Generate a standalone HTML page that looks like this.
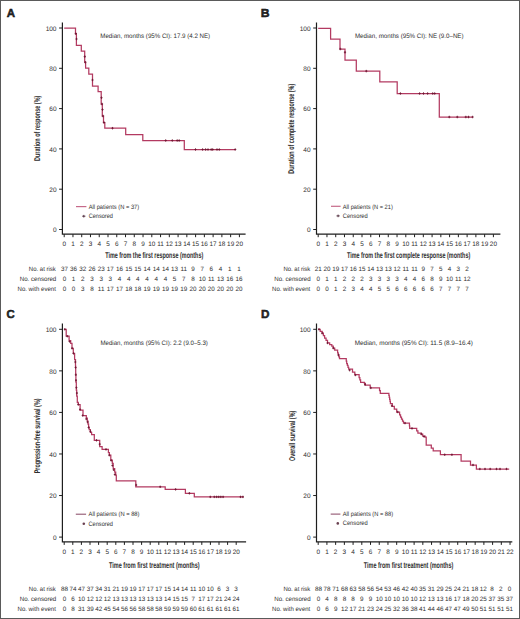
<!DOCTYPE html><html><head><meta charset="utf-8"><style>html,body{margin:0;padding:0;background:#fff;overflow:hidden}svg{display:block}text{fill:#2e2e2e;text-rendering:geometricPrecision}</style></head><body>
<svg width="520" height="619" viewBox="0 0 520 619" font-family="'Liberation Sans', sans-serif">
<rect x="0" y="0" width="520" height="619" fill="#fff"/>
<rect x="0.5" y="0.5" width="519" height="618" fill="none" stroke="#5a5a5a" stroke-width="1"/>
<text x="6.65" y="16.7" font-size="11.6" font-weight="bold" fill="#000" stroke="#000" stroke-width="0.45" textLength="8.32" lengthAdjust="spacingAndGlyphs">A</text>
<text x="260.81" y="16.6" font-size="11.6" font-weight="bold" fill="#000" stroke="#000" stroke-width="0.45" textLength="8.79" lengthAdjust="spacingAndGlyphs">B</text>
<text x="6.46" y="318.1" font-size="11.6" font-weight="bold" fill="#000" stroke="#000" stroke-width="0.45" textLength="8.21" lengthAdjust="spacingAndGlyphs">C</text>
<text x="261.14" y="317.9" font-size="11.6" font-weight="bold" fill="#000" stroke="#000" stroke-width="0.45" textLength="8.44" lengthAdjust="spacingAndGlyphs">D</text>
<path d="M62.4 22.4V234.8M61.8 234.2H245.6" stroke="#1e1e1e" stroke-width="1.2" fill="none"/>
<path d="M59.1 229.5H62.4M59.1 189.2H62.4M59.1 148.9H62.4M59.1 108.6H62.4M59.1 68.3H62.4M59.1 28H62.4M64.2 234.2V237.2M72.96 234.2V237.2M81.72 234.2V237.2M90.48 234.2V237.2M99.24 234.2V237.2M108 234.2V237.2M116.76 234.2V237.2M125.52 234.2V237.2M134.28 234.2V237.2M143.04 234.2V237.2M151.8 234.2V237.2M160.56 234.2V237.2M169.32 234.2V237.2M178.08 234.2V237.2M186.84 234.2V237.2M195.6 234.2V237.2M204.36 234.2V237.2M213.12 234.2V237.2M221.88 234.2V237.2M230.64 234.2V237.2M239.4 234.2V237.2" stroke="#1e1e1e" stroke-width="1" fill="none"/>
<text x="56.5" y="232.3" font-size="6.5" text-anchor="end">0</text>
<text x="56.5" y="192" font-size="6.5" text-anchor="end">20</text>
<text x="56.5" y="151.7" font-size="6.5" text-anchor="end">40</text>
<text x="56.5" y="111.4" font-size="6.5" text-anchor="end">60</text>
<text x="56.5" y="71.1" font-size="6.5" text-anchor="end">80</text>
<text x="56.5" y="30.8" font-size="6.5" text-anchor="end">100</text>
<text x="64.2" y="245.9" font-size="6.4" text-anchor="middle">0</text>
<text x="72.96" y="245.9" font-size="6.4" text-anchor="middle">1</text>
<text x="81.72" y="245.9" font-size="6.4" text-anchor="middle">2</text>
<text x="90.48" y="245.9" font-size="6.4" text-anchor="middle">3</text>
<text x="99.24" y="245.9" font-size="6.4" text-anchor="middle">4</text>
<text x="108" y="245.9" font-size="6.4" text-anchor="middle">5</text>
<text x="116.76" y="245.9" font-size="6.4" text-anchor="middle">6</text>
<text x="125.52" y="245.9" font-size="6.4" text-anchor="middle">7</text>
<text x="134.28" y="245.9" font-size="6.4" text-anchor="middle">8</text>
<text x="143.04" y="245.9" font-size="6.4" text-anchor="middle">9</text>
<text x="151.8" y="245.9" font-size="6.4" text-anchor="middle">10</text>
<text x="160.56" y="245.9" font-size="6.4" text-anchor="middle">11</text>
<text x="169.32" y="245.9" font-size="6.4" text-anchor="middle">12</text>
<text x="178.08" y="245.9" font-size="6.4" text-anchor="middle">13</text>
<text x="186.84" y="245.9" font-size="6.4" text-anchor="middle">14</text>
<text x="195.6" y="245.9" font-size="6.4" text-anchor="middle">15</text>
<text x="204.36" y="245.9" font-size="6.4" text-anchor="middle">16</text>
<text x="213.12" y="245.9" font-size="6.4" text-anchor="middle">17</text>
<text x="221.88" y="245.9" font-size="6.4" text-anchor="middle">18</text>
<text x="230.64" y="245.9" font-size="6.4" text-anchor="middle">19</text>
<text x="239.4" y="245.9" font-size="6.4" text-anchor="middle">20</text>
<path d="M316.5 22.4V234.8M315.9 234.2H500.4" stroke="#1e1e1e" stroke-width="1.2" fill="none"/>
<path d="M313.2 229.5H316.5M313.2 189.2H316.5M313.2 148.9H316.5M313.2 108.6H316.5M313.2 68.3H316.5M313.2 28H316.5M318.2 234.2V237.2M326.96 234.2V237.2M335.72 234.2V237.2M344.48 234.2V237.2M353.24 234.2V237.2M362 234.2V237.2M370.76 234.2V237.2M379.52 234.2V237.2M388.28 234.2V237.2M397.04 234.2V237.2M405.8 234.2V237.2M414.56 234.2V237.2M423.32 234.2V237.2M432.08 234.2V237.2M440.84 234.2V237.2M449.6 234.2V237.2M458.36 234.2V237.2M467.12 234.2V237.2M475.88 234.2V237.2M484.64 234.2V237.2M493.4 234.2V237.2" stroke="#1e1e1e" stroke-width="1" fill="none"/>
<text x="310.6" y="232.3" font-size="6.5" text-anchor="end">0</text>
<text x="310.6" y="192" font-size="6.5" text-anchor="end">20</text>
<text x="310.6" y="151.7" font-size="6.5" text-anchor="end">40</text>
<text x="310.6" y="111.4" font-size="6.5" text-anchor="end">60</text>
<text x="310.6" y="71.1" font-size="6.5" text-anchor="end">80</text>
<text x="310.6" y="30.8" font-size="6.5" text-anchor="end">100</text>
<text x="318.2" y="245.9" font-size="6.4" text-anchor="middle">0</text>
<text x="326.96" y="245.9" font-size="6.4" text-anchor="middle">1</text>
<text x="335.72" y="245.9" font-size="6.4" text-anchor="middle">2</text>
<text x="344.48" y="245.9" font-size="6.4" text-anchor="middle">3</text>
<text x="353.24" y="245.9" font-size="6.4" text-anchor="middle">4</text>
<text x="362" y="245.9" font-size="6.4" text-anchor="middle">5</text>
<text x="370.76" y="245.9" font-size="6.4" text-anchor="middle">6</text>
<text x="379.52" y="245.9" font-size="6.4" text-anchor="middle">7</text>
<text x="388.28" y="245.9" font-size="6.4" text-anchor="middle">8</text>
<text x="397.04" y="245.9" font-size="6.4" text-anchor="middle">9</text>
<text x="405.8" y="245.9" font-size="6.4" text-anchor="middle">10</text>
<text x="414.56" y="245.9" font-size="6.4" text-anchor="middle">11</text>
<text x="423.32" y="245.9" font-size="6.4" text-anchor="middle">12</text>
<text x="432.08" y="245.9" font-size="6.4" text-anchor="middle">13</text>
<text x="440.84" y="245.9" font-size="6.4" text-anchor="middle">14</text>
<text x="449.6" y="245.9" font-size="6.4" text-anchor="middle">15</text>
<text x="458.36" y="245.9" font-size="6.4" text-anchor="middle">16</text>
<text x="467.12" y="245.9" font-size="6.4" text-anchor="middle">17</text>
<text x="475.88" y="245.9" font-size="6.4" text-anchor="middle">18</text>
<text x="484.64" y="245.9" font-size="6.4" text-anchor="middle">19</text>
<text x="493.4" y="245.9" font-size="6.4" text-anchor="middle">20</text>
<path d="M62.4 323.6V542.5M61.8 541.9H246.1" stroke="#1e1e1e" stroke-width="1.2" fill="none"/>
<path d="M59.1 537.1H62.4M59.1 495.54H62.4M59.1 453.98H62.4M59.1 412.42H62.4M59.1 370.86H62.4M59.1 329.3H62.4M64.2 541.9V544.9M72.8 541.9V544.9M81.4 541.9V544.9M90 541.9V544.9M98.6 541.9V544.9M107.2 541.9V544.9M115.8 541.9V544.9M124.4 541.9V544.9M133 541.9V544.9M141.6 541.9V544.9M150.2 541.9V544.9M158.8 541.9V544.9M167.4 541.9V544.9M176 541.9V544.9M184.6 541.9V544.9M193.2 541.9V544.9M201.8 541.9V544.9M210.4 541.9V544.9M219 541.9V544.9M227.6 541.9V544.9M236.2 541.9V544.9" stroke="#1e1e1e" stroke-width="1" fill="none"/>
<text x="56.5" y="539.9" font-size="6.5" text-anchor="end">0</text>
<text x="56.5" y="498.34" font-size="6.5" text-anchor="end">20</text>
<text x="56.5" y="456.78" font-size="6.5" text-anchor="end">40</text>
<text x="56.5" y="415.22" font-size="6.5" text-anchor="end">60</text>
<text x="56.5" y="373.66" font-size="6.5" text-anchor="end">80</text>
<text x="56.5" y="332.1" font-size="6.5" text-anchor="end">100</text>
<text x="64.2" y="554" font-size="6.4" text-anchor="middle">0</text>
<text x="72.8" y="554" font-size="6.4" text-anchor="middle">1</text>
<text x="81.4" y="554" font-size="6.4" text-anchor="middle">2</text>
<text x="90" y="554" font-size="6.4" text-anchor="middle">3</text>
<text x="98.6" y="554" font-size="6.4" text-anchor="middle">4</text>
<text x="107.2" y="554" font-size="6.4" text-anchor="middle">5</text>
<text x="115.8" y="554" font-size="6.4" text-anchor="middle">6</text>
<text x="124.4" y="554" font-size="6.4" text-anchor="middle">7</text>
<text x="133" y="554" font-size="6.4" text-anchor="middle">8</text>
<text x="141.6" y="554" font-size="6.4" text-anchor="middle">9</text>
<text x="150.2" y="554" font-size="6.4" text-anchor="middle">10</text>
<text x="158.8" y="554" font-size="6.4" text-anchor="middle">11</text>
<text x="167.4" y="554" font-size="6.4" text-anchor="middle">12</text>
<text x="176" y="554" font-size="6.4" text-anchor="middle">13</text>
<text x="184.6" y="554" font-size="6.4" text-anchor="middle">14</text>
<text x="193.2" y="554" font-size="6.4" text-anchor="middle">15</text>
<text x="201.8" y="554" font-size="6.4" text-anchor="middle">16</text>
<text x="210.4" y="554" font-size="6.4" text-anchor="middle">17</text>
<text x="219" y="554" font-size="6.4" text-anchor="middle">18</text>
<text x="227.6" y="554" font-size="6.4" text-anchor="middle">19</text>
<text x="236.2" y="554" font-size="6.4" text-anchor="middle">20</text>
<path d="M316.5 323.6V542.5M315.9 541.9H512.3" stroke="#1e1e1e" stroke-width="1.2" fill="none"/>
<path d="M313.2 537.1H316.5M313.2 495.54H316.5M313.2 453.98H316.5M313.2 412.42H316.5M313.2 370.86H316.5M313.2 329.3H316.5M318.2 541.9V544.9M326.92 541.9V544.9M335.64 541.9V544.9M344.36 541.9V544.9M353.08 541.9V544.9M361.8 541.9V544.9M370.52 541.9V544.9M379.24 541.9V544.9M387.96 541.9V544.9M396.68 541.9V544.9M405.4 541.9V544.9M414.12 541.9V544.9M422.84 541.9V544.9M431.56 541.9V544.9M440.28 541.9V544.9M449 541.9V544.9M457.72 541.9V544.9M466.44 541.9V544.9M475.16 541.9V544.9M483.88 541.9V544.9M492.6 541.9V544.9M501.32 541.9V544.9M510.04 541.9V544.9" stroke="#1e1e1e" stroke-width="1" fill="none"/>
<text x="310.6" y="539.9" font-size="6.5" text-anchor="end">0</text>
<text x="310.6" y="498.34" font-size="6.5" text-anchor="end">20</text>
<text x="310.6" y="456.78" font-size="6.5" text-anchor="end">40</text>
<text x="310.6" y="415.22" font-size="6.5" text-anchor="end">60</text>
<text x="310.6" y="373.66" font-size="6.5" text-anchor="end">80</text>
<text x="310.6" y="332.1" font-size="6.5" text-anchor="end">100</text>
<text x="318.2" y="554" font-size="6.4" text-anchor="middle">0</text>
<text x="326.92" y="554" font-size="6.4" text-anchor="middle">1</text>
<text x="335.64" y="554" font-size="6.4" text-anchor="middle">2</text>
<text x="344.36" y="554" font-size="6.4" text-anchor="middle">3</text>
<text x="353.08" y="554" font-size="6.4" text-anchor="middle">4</text>
<text x="361.8" y="554" font-size="6.4" text-anchor="middle">5</text>
<text x="370.52" y="554" font-size="6.4" text-anchor="middle">6</text>
<text x="379.24" y="554" font-size="6.4" text-anchor="middle">7</text>
<text x="387.96" y="554" font-size="6.4" text-anchor="middle">8</text>
<text x="396.68" y="554" font-size="6.4" text-anchor="middle">9</text>
<text x="405.4" y="554" font-size="6.4" text-anchor="middle">10</text>
<text x="414.12" y="554" font-size="6.4" text-anchor="middle">11</text>
<text x="422.84" y="554" font-size="6.4" text-anchor="middle">12</text>
<text x="431.56" y="554" font-size="6.4" text-anchor="middle">13</text>
<text x="440.28" y="554" font-size="6.4" text-anchor="middle">14</text>
<text x="449" y="554" font-size="6.4" text-anchor="middle">15</text>
<text x="457.72" y="554" font-size="6.4" text-anchor="middle">16</text>
<text x="466.44" y="554" font-size="6.4" text-anchor="middle">17</text>
<text x="475.16" y="554" font-size="6.4" text-anchor="middle">18</text>
<text x="483.88" y="554" font-size="6.4" text-anchor="middle">19</text>
<text x="492.6" y="554" font-size="6.4" text-anchor="middle">20</text>
<text x="501.32" y="554" font-size="6.4" text-anchor="middle">21</text>
<text x="510.04" y="554" font-size="6.4" text-anchor="middle">22</text>
<text x="105.17" y="258" font-size="8.4" font-weight="bold" textLength="98.09" lengthAdjust="spacingAndGlyphs">Time from the first response (months)</text>
<text x="346.97" y="258" font-size="8.4" font-weight="bold" textLength="123.29" lengthAdjust="spacingAndGlyphs">Time from the first complete response (months)</text>
<text x="108.97" y="568.3" font-size="8.4" font-weight="bold" textLength="90.59" lengthAdjust="spacingAndGlyphs">Time from first treatment (months)</text>
<text x="363.87" y="568.3" font-size="8.4" font-weight="bold" textLength="89.39" lengthAdjust="spacingAndGlyphs">Time from first treatment (months)</text>
<text transform="translate(39.8,160.96) rotate(-90)" x="0" y="0" font-size="8.4" font-weight="bold" textLength="65.32" lengthAdjust="spacingAndGlyphs">Duration of response (%)</text>
<text transform="translate(294.4,173.66) rotate(-90)" x="0" y="0" font-size="8.4" font-weight="bold" textLength="89.91" lengthAdjust="spacingAndGlyphs">Duration of complete response (%)</text>
<text transform="translate(39.6,473.25) rotate(-90)" x="0" y="0" font-size="8.4" font-weight="bold" textLength="74.71" lengthAdjust="spacingAndGlyphs">Progression-free survival (%)</text>
<text transform="translate(294.5,460.99) rotate(-90)" x="0" y="0" font-size="8.4" font-weight="bold" textLength="50.25" lengthAdjust="spacingAndGlyphs">Overall survival (%)</text>
<text x="100.32" y="37.7" font-size="6.4" textLength="109.85" lengthAdjust="spacingAndGlyphs">Median, months (95% CI): 17.9 (4.2 NE)</text>
<text x="354.92" y="37.8" font-size="6.4" textLength="108.65" lengthAdjust="spacingAndGlyphs">Median, months (95% CI): NE (9.0–NE)</text>
<text x="100.42" y="345.4" font-size="6.4" textLength="107.44" lengthAdjust="spacingAndGlyphs">Median, months (95% CI): 2.2 (9.0–5.3)</text>
<text x="354.8" y="345.4" font-size="6.4" textLength="118.07" lengthAdjust="spacingAndGlyphs">Median, months (95% CI): 11.5 (8.9–16.4)</text>
<path d="M76 206.6H86.4" stroke="#c66a8a" stroke-width="1.2"/>
<text x="88.7" y="208.7" font-size="6.3" textLength="50.52" lengthAdjust="spacingAndGlyphs">All patients (N = 37)</text>
<path d="M83.8 214.9V217.5M82.2 216.2H85.4" stroke="#4a2535" stroke-width="0.9"/>
<text x="88.63" y="217.9" font-size="6.3" textLength="24.33" lengthAdjust="spacingAndGlyphs">Censored</text>
<path d="M331 206.3H340.6" stroke="#c66a8a" stroke-width="1.2"/>
<text x="342.8" y="208.5" font-size="6.3" textLength="50.01" lengthAdjust="spacingAndGlyphs">All patients (N = 21)</text>
<path d="M338.1 214.6V217.2M336.5 215.9H339.7" stroke="#4a2535" stroke-width="0.9"/>
<text x="342.72" y="217.7" font-size="6.3" textLength="25.05" lengthAdjust="spacingAndGlyphs">Censored</text>
<path d="M75.8 514.2H86.1" stroke="#864462" stroke-width="1"/>
<text x="88.6" y="515.9" font-size="6.3" textLength="50.92" lengthAdjust="spacingAndGlyphs">All patients (N = 88)</text>
<circle cx="83.8" cy="523.7" r="1.3" fill="#6a4050"/>
<text x="88.53" y="525.5" font-size="6.3" textLength="24.43" lengthAdjust="spacingAndGlyphs">Censored</text>
<path d="M330.7 514.1H340.4" stroke="#864462" stroke-width="1"/>
<text x="342.8" y="515.9" font-size="6.3" textLength="50.32" lengthAdjust="spacingAndGlyphs">All patients (N = 88)</text>
<circle cx="337.8" cy="523.4" r="1.3" fill="#6a4050"/>
<text x="342.72" y="525.4" font-size="6.3" textLength="25.05" lengthAdjust="spacingAndGlyphs">Censored</text>
<text x="28.82" y="271.3" font-size="6.3" textLength="27.03" lengthAdjust="spacingAndGlyphs">No. at risk</text>
<text x="19.71" y="281.2" font-size="6.3" textLength="36.58" lengthAdjust="spacingAndGlyphs">No. censored</text>
<text x="17.52" y="291.2" font-size="6.3" textLength="38.38" lengthAdjust="spacingAndGlyphs">No. with event</text>
<text x="64.4" y="271.3" font-size="6.3" text-anchor="middle">37</text>
<text x="73.58" y="271.3" font-size="6.3" text-anchor="middle">36</text>
<text x="82.77" y="271.3" font-size="6.3" text-anchor="middle">32</text>
<text x="91.95" y="271.3" font-size="6.3" text-anchor="middle">26</text>
<text x="101.14" y="271.3" font-size="6.3" text-anchor="middle">23</text>
<text x="110.32" y="271.3" font-size="6.3" text-anchor="middle">17</text>
<text x="119.51" y="271.3" font-size="6.3" text-anchor="middle">16</text>
<text x="128.69" y="271.3" font-size="6.3" text-anchor="middle">15</text>
<text x="137.87" y="271.3" font-size="6.3" text-anchor="middle">15</text>
<text x="147.06" y="271.3" font-size="6.3" text-anchor="middle">14</text>
<text x="156.24" y="271.3" font-size="6.3" text-anchor="middle">14</text>
<text x="165.43" y="271.3" font-size="6.3" text-anchor="middle">14</text>
<text x="174.61" y="271.3" font-size="6.3" text-anchor="middle">13</text>
<text x="183.79" y="271.3" font-size="6.3" text-anchor="middle">11</text>
<text x="192.98" y="271.3" font-size="6.3" text-anchor="middle">9</text>
<text x="202.16" y="271.3" font-size="6.3" text-anchor="middle">7</text>
<text x="211.35" y="271.3" font-size="6.3" text-anchor="middle">6</text>
<text x="220.53" y="271.3" font-size="6.3" text-anchor="middle">4</text>
<text x="229.72" y="271.3" font-size="6.3" text-anchor="middle">1</text>
<text x="238.9" y="271.3" font-size="6.3" text-anchor="middle">1</text>
<text x="64.4" y="281.2" font-size="6.3" text-anchor="middle">0</text>
<text x="73.58" y="281.2" font-size="6.3" text-anchor="middle">1</text>
<text x="82.77" y="281.2" font-size="6.3" text-anchor="middle">2</text>
<text x="91.95" y="281.2" font-size="6.3" text-anchor="middle">3</text>
<text x="101.14" y="281.2" font-size="6.3" text-anchor="middle">3</text>
<text x="110.32" y="281.2" font-size="6.3" text-anchor="middle">3</text>
<text x="119.51" y="281.2" font-size="6.3" text-anchor="middle">4</text>
<text x="128.69" y="281.2" font-size="6.3" text-anchor="middle">4</text>
<text x="137.87" y="281.2" font-size="6.3" text-anchor="middle">4</text>
<text x="147.06" y="281.2" font-size="6.3" text-anchor="middle">4</text>
<text x="156.24" y="281.2" font-size="6.3" text-anchor="middle">4</text>
<text x="165.43" y="281.2" font-size="6.3" text-anchor="middle">4</text>
<text x="174.61" y="281.2" font-size="6.3" text-anchor="middle">5</text>
<text x="183.79" y="281.2" font-size="6.3" text-anchor="middle">7</text>
<text x="192.98" y="281.2" font-size="6.3" text-anchor="middle">8</text>
<text x="202.16" y="281.2" font-size="6.3" text-anchor="middle">10</text>
<text x="211.35" y="281.2" font-size="6.3" text-anchor="middle">11</text>
<text x="220.53" y="281.2" font-size="6.3" text-anchor="middle">13</text>
<text x="229.72" y="281.2" font-size="6.3" text-anchor="middle">16</text>
<text x="238.9" y="281.2" font-size="6.3" text-anchor="middle">16</text>
<text x="64.4" y="291.2" font-size="6.3" text-anchor="middle">0</text>
<text x="73.58" y="291.2" font-size="6.3" text-anchor="middle">0</text>
<text x="82.77" y="291.2" font-size="6.3" text-anchor="middle">3</text>
<text x="91.95" y="291.2" font-size="6.3" text-anchor="middle">8</text>
<text x="101.14" y="291.2" font-size="6.3" text-anchor="middle">11</text>
<text x="110.32" y="291.2" font-size="6.3" text-anchor="middle">17</text>
<text x="119.51" y="291.2" font-size="6.3" text-anchor="middle">17</text>
<text x="128.69" y="291.2" font-size="6.3" text-anchor="middle">18</text>
<text x="137.87" y="291.2" font-size="6.3" text-anchor="middle">18</text>
<text x="147.06" y="291.2" font-size="6.3" text-anchor="middle">19</text>
<text x="156.24" y="291.2" font-size="6.3" text-anchor="middle">19</text>
<text x="165.43" y="291.2" font-size="6.3" text-anchor="middle">19</text>
<text x="174.61" y="291.2" font-size="6.3" text-anchor="middle">19</text>
<text x="183.79" y="291.2" font-size="6.3" text-anchor="middle">19</text>
<text x="192.98" y="291.2" font-size="6.3" text-anchor="middle">20</text>
<text x="202.16" y="291.2" font-size="6.3" text-anchor="middle">20</text>
<text x="211.35" y="291.2" font-size="6.3" text-anchor="middle">20</text>
<text x="220.53" y="291.2" font-size="6.3" text-anchor="middle">20</text>
<text x="229.72" y="291.2" font-size="6.3" text-anchor="middle">20</text>
<text x="238.9" y="291.2" font-size="6.3" text-anchor="middle">20</text>
<text x="283.43" y="271.3" font-size="6.3" textLength="26.83" lengthAdjust="spacingAndGlyphs">No. at risk</text>
<text x="274.21" y="281.2" font-size="6.3" textLength="36.48" lengthAdjust="spacingAndGlyphs">No. censored</text>
<text x="272.02" y="291.2" font-size="6.3" textLength="38.28" lengthAdjust="spacingAndGlyphs">No. with event</text>
<text x="318.2" y="271.3" font-size="6.3" text-anchor="middle">21</text>
<text x="326.96" y="271.3" font-size="6.3" text-anchor="middle">20</text>
<text x="335.72" y="271.3" font-size="6.3" text-anchor="middle">19</text>
<text x="344.48" y="271.3" font-size="6.3" text-anchor="middle">17</text>
<text x="353.24" y="271.3" font-size="6.3" text-anchor="middle">16</text>
<text x="362" y="271.3" font-size="6.3" text-anchor="middle">15</text>
<text x="370.76" y="271.3" font-size="6.3" text-anchor="middle">14</text>
<text x="379.52" y="271.3" font-size="6.3" text-anchor="middle">13</text>
<text x="388.28" y="271.3" font-size="6.3" text-anchor="middle">13</text>
<text x="397.04" y="271.3" font-size="6.3" text-anchor="middle">12</text>
<text x="405.8" y="271.3" font-size="6.3" text-anchor="middle">11</text>
<text x="414.56" y="271.3" font-size="6.3" text-anchor="middle">11</text>
<text x="423.32" y="271.3" font-size="6.3" text-anchor="middle">9</text>
<text x="432.08" y="271.3" font-size="6.3" text-anchor="middle">7</text>
<text x="440.84" y="271.3" font-size="6.3" text-anchor="middle">5</text>
<text x="449.6" y="271.3" font-size="6.3" text-anchor="middle">4</text>
<text x="458.36" y="271.3" font-size="6.3" text-anchor="middle">3</text>
<text x="467.12" y="271.3" font-size="6.3" text-anchor="middle">2</text>
<text x="318.2" y="281.2" font-size="6.3" text-anchor="middle">0</text>
<text x="326.96" y="281.2" font-size="6.3" text-anchor="middle">1</text>
<text x="335.72" y="281.2" font-size="6.3" text-anchor="middle">1</text>
<text x="344.48" y="281.2" font-size="6.3" text-anchor="middle">2</text>
<text x="353.24" y="281.2" font-size="6.3" text-anchor="middle">2</text>
<text x="362" y="281.2" font-size="6.3" text-anchor="middle">2</text>
<text x="370.76" y="281.2" font-size="6.3" text-anchor="middle">3</text>
<text x="379.52" y="281.2" font-size="6.3" text-anchor="middle">3</text>
<text x="388.28" y="281.2" font-size="6.3" text-anchor="middle">3</text>
<text x="397.04" y="281.2" font-size="6.3" text-anchor="middle">3</text>
<text x="405.8" y="281.2" font-size="6.3" text-anchor="middle">4</text>
<text x="414.56" y="281.2" font-size="6.3" text-anchor="middle">4</text>
<text x="423.32" y="281.2" font-size="6.3" text-anchor="middle">6</text>
<text x="432.08" y="281.2" font-size="6.3" text-anchor="middle">8</text>
<text x="440.84" y="281.2" font-size="6.3" text-anchor="middle">9</text>
<text x="449.6" y="281.2" font-size="6.3" text-anchor="middle">10</text>
<text x="458.36" y="281.2" font-size="6.3" text-anchor="middle">11</text>
<text x="467.12" y="281.2" font-size="6.3" text-anchor="middle">12</text>
<text x="318.2" y="291.2" font-size="6.3" text-anchor="middle">0</text>
<text x="326.96" y="291.2" font-size="6.3" text-anchor="middle">0</text>
<text x="335.72" y="291.2" font-size="6.3" text-anchor="middle">1</text>
<text x="344.48" y="291.2" font-size="6.3" text-anchor="middle">2</text>
<text x="353.24" y="291.2" font-size="6.3" text-anchor="middle">3</text>
<text x="362" y="291.2" font-size="6.3" text-anchor="middle">4</text>
<text x="370.76" y="291.2" font-size="6.3" text-anchor="middle">4</text>
<text x="379.52" y="291.2" font-size="6.3" text-anchor="middle">5</text>
<text x="388.28" y="291.2" font-size="6.3" text-anchor="middle">5</text>
<text x="397.04" y="291.2" font-size="6.3" text-anchor="middle">6</text>
<text x="405.8" y="291.2" font-size="6.3" text-anchor="middle">6</text>
<text x="414.56" y="291.2" font-size="6.3" text-anchor="middle">6</text>
<text x="423.32" y="291.2" font-size="6.3" text-anchor="middle">6</text>
<text x="432.08" y="291.2" font-size="6.3" text-anchor="middle">6</text>
<text x="440.84" y="291.2" font-size="6.3" text-anchor="middle">7</text>
<text x="449.6" y="291.2" font-size="6.3" text-anchor="middle">7</text>
<text x="458.36" y="291.2" font-size="6.3" text-anchor="middle">7</text>
<text x="467.12" y="291.2" font-size="6.3" text-anchor="middle">7</text>
<text x="28.82" y="590.6" font-size="6.3" textLength="27.03" lengthAdjust="spacingAndGlyphs">No. at risk</text>
<text x="19.71" y="600.6" font-size="6.3" textLength="36.58" lengthAdjust="spacingAndGlyphs">No. censored</text>
<text x="17.52" y="610.6" font-size="6.3" textLength="38.38" lengthAdjust="spacingAndGlyphs">No. with event</text>
<text x="64.4" y="590.6" font-size="6.3" text-anchor="middle">88</text>
<text x="72.99" y="590.6" font-size="6.3" text-anchor="middle">74</text>
<text x="81.57" y="590.6" font-size="6.3" text-anchor="middle">47</text>
<text x="90.16" y="590.6" font-size="6.3" text-anchor="middle">37</text>
<text x="98.74" y="590.6" font-size="6.3" text-anchor="middle">34</text>
<text x="107.33" y="590.6" font-size="6.3" text-anchor="middle">31</text>
<text x="115.91" y="590.6" font-size="6.3" text-anchor="middle">21</text>
<text x="124.5" y="590.6" font-size="6.3" text-anchor="middle">19</text>
<text x="133.08" y="590.6" font-size="6.3" text-anchor="middle">19</text>
<text x="141.67" y="590.6" font-size="6.3" text-anchor="middle">17</text>
<text x="150.25" y="590.6" font-size="6.3" text-anchor="middle">17</text>
<text x="158.84" y="590.6" font-size="6.3" text-anchor="middle">17</text>
<text x="167.42" y="590.6" font-size="6.3" text-anchor="middle">15</text>
<text x="176.01" y="590.6" font-size="6.3" text-anchor="middle">14</text>
<text x="184.59" y="590.6" font-size="6.3" text-anchor="middle">14</text>
<text x="193.18" y="590.6" font-size="6.3" text-anchor="middle">11</text>
<text x="201.76" y="590.6" font-size="6.3" text-anchor="middle">10</text>
<text x="210.35" y="590.6" font-size="6.3" text-anchor="middle">10</text>
<text x="218.93" y="590.6" font-size="6.3" text-anchor="middle">6</text>
<text x="227.52" y="590.6" font-size="6.3" text-anchor="middle">3</text>
<text x="236.1" y="590.6" font-size="6.3" text-anchor="middle">3</text>
<text x="64.4" y="600.6" font-size="6.3" text-anchor="middle">0</text>
<text x="72.99" y="600.6" font-size="6.3" text-anchor="middle">6</text>
<text x="81.57" y="600.6" font-size="6.3" text-anchor="middle">10</text>
<text x="90.16" y="600.6" font-size="6.3" text-anchor="middle">12</text>
<text x="98.74" y="600.6" font-size="6.3" text-anchor="middle">12</text>
<text x="107.33" y="600.6" font-size="6.3" text-anchor="middle">12</text>
<text x="115.91" y="600.6" font-size="6.3" text-anchor="middle">13</text>
<text x="124.5" y="600.6" font-size="6.3" text-anchor="middle">13</text>
<text x="133.08" y="600.6" font-size="6.3" text-anchor="middle">13</text>
<text x="141.67" y="600.6" font-size="6.3" text-anchor="middle">13</text>
<text x="150.25" y="600.6" font-size="6.3" text-anchor="middle">13</text>
<text x="158.84" y="600.6" font-size="6.3" text-anchor="middle">13</text>
<text x="167.42" y="600.6" font-size="6.3" text-anchor="middle">14</text>
<text x="176.01" y="600.6" font-size="6.3" text-anchor="middle">15</text>
<text x="184.59" y="600.6" font-size="6.3" text-anchor="middle">15</text>
<text x="193.18" y="600.6" font-size="6.3" text-anchor="middle">7</text>
<text x="201.76" y="600.6" font-size="6.3" text-anchor="middle">17</text>
<text x="210.35" y="600.6" font-size="6.3" text-anchor="middle">17</text>
<text x="218.93" y="600.6" font-size="6.3" text-anchor="middle">21</text>
<text x="227.52" y="600.6" font-size="6.3" text-anchor="middle">24</text>
<text x="236.1" y="600.6" font-size="6.3" text-anchor="middle">24</text>
<text x="64.4" y="610.6" font-size="6.3" text-anchor="middle">0</text>
<text x="72.99" y="610.6" font-size="6.3" text-anchor="middle">8</text>
<text x="81.57" y="610.6" font-size="6.3" text-anchor="middle">31</text>
<text x="90.16" y="610.6" font-size="6.3" text-anchor="middle">39</text>
<text x="98.74" y="610.6" font-size="6.3" text-anchor="middle">42</text>
<text x="107.33" y="610.6" font-size="6.3" text-anchor="middle">45</text>
<text x="115.91" y="610.6" font-size="6.3" text-anchor="middle">54</text>
<text x="124.5" y="610.6" font-size="6.3" text-anchor="middle">56</text>
<text x="133.08" y="610.6" font-size="6.3" text-anchor="middle">56</text>
<text x="141.67" y="610.6" font-size="6.3" text-anchor="middle">58</text>
<text x="150.25" y="610.6" font-size="6.3" text-anchor="middle">58</text>
<text x="158.84" y="610.6" font-size="6.3" text-anchor="middle">58</text>
<text x="167.42" y="610.6" font-size="6.3" text-anchor="middle">59</text>
<text x="176.01" y="610.6" font-size="6.3" text-anchor="middle">59</text>
<text x="184.59" y="610.6" font-size="6.3" text-anchor="middle">59</text>
<text x="193.18" y="610.6" font-size="6.3" text-anchor="middle">60</text>
<text x="201.76" y="610.6" font-size="6.3" text-anchor="middle">61</text>
<text x="210.35" y="610.6" font-size="6.3" text-anchor="middle">61</text>
<text x="218.93" y="610.6" font-size="6.3" text-anchor="middle">61</text>
<text x="227.52" y="610.6" font-size="6.3" text-anchor="middle">61</text>
<text x="236.1" y="610.6" font-size="6.3" text-anchor="middle">61</text>
<text x="283.43" y="590.6" font-size="6.3" textLength="26.83" lengthAdjust="spacingAndGlyphs">No. at risk</text>
<text x="274.21" y="600.6" font-size="6.3" textLength="36.48" lengthAdjust="spacingAndGlyphs">No. censored</text>
<text x="272.02" y="610.5" font-size="6.3" textLength="38.28" lengthAdjust="spacingAndGlyphs">No. with event</text>
<text x="318.4" y="590.6" font-size="6.3" text-anchor="middle">88</text>
<text x="327.08" y="590.6" font-size="6.3" text-anchor="middle">78</text>
<text x="335.76" y="590.6" font-size="6.3" text-anchor="middle">71</text>
<text x="344.45" y="590.6" font-size="6.3" text-anchor="middle">68</text>
<text x="353.13" y="590.6" font-size="6.3" text-anchor="middle">63</text>
<text x="361.81" y="590.6" font-size="6.3" text-anchor="middle">58</text>
<text x="370.49" y="590.6" font-size="6.3" text-anchor="middle">56</text>
<text x="379.17" y="590.6" font-size="6.3" text-anchor="middle">54</text>
<text x="387.85" y="590.6" font-size="6.3" text-anchor="middle">53</text>
<text x="396.54" y="590.6" font-size="6.3" text-anchor="middle">46</text>
<text x="405.22" y="590.6" font-size="6.3" text-anchor="middle">42</text>
<text x="413.9" y="590.6" font-size="6.3" text-anchor="middle">40</text>
<text x="422.58" y="590.6" font-size="6.3" text-anchor="middle">35</text>
<text x="431.26" y="590.6" font-size="6.3" text-anchor="middle">31</text>
<text x="439.95" y="590.6" font-size="6.3" text-anchor="middle">29</text>
<text x="448.63" y="590.6" font-size="6.3" text-anchor="middle">25</text>
<text x="457.31" y="590.6" font-size="6.3" text-anchor="middle">24</text>
<text x="465.99" y="590.6" font-size="6.3" text-anchor="middle">21</text>
<text x="474.67" y="590.6" font-size="6.3" text-anchor="middle">18</text>
<text x="483.35" y="590.6" font-size="6.3" text-anchor="middle">12</text>
<text x="492.04" y="590.6" font-size="6.3" text-anchor="middle">8</text>
<text x="500.72" y="590.6" font-size="6.3" text-anchor="middle">2</text>
<text x="509.4" y="590.6" font-size="6.3" text-anchor="middle">0</text>
<text x="318.4" y="600.6" font-size="6.3" text-anchor="middle">0</text>
<text x="327.08" y="600.6" font-size="6.3" text-anchor="middle">4</text>
<text x="335.76" y="600.6" font-size="6.3" text-anchor="middle">8</text>
<text x="344.45" y="600.6" font-size="6.3" text-anchor="middle">8</text>
<text x="353.13" y="600.6" font-size="6.3" text-anchor="middle">8</text>
<text x="361.81" y="600.6" font-size="6.3" text-anchor="middle">9</text>
<text x="370.49" y="600.6" font-size="6.3" text-anchor="middle">9</text>
<text x="379.17" y="600.6" font-size="6.3" text-anchor="middle">10</text>
<text x="387.85" y="600.6" font-size="6.3" text-anchor="middle">10</text>
<text x="396.54" y="600.6" font-size="6.3" text-anchor="middle">10</text>
<text x="405.22" y="600.6" font-size="6.3" text-anchor="middle">10</text>
<text x="413.9" y="600.6" font-size="6.3" text-anchor="middle">10</text>
<text x="422.58" y="600.6" font-size="6.3" text-anchor="middle">12</text>
<text x="431.26" y="600.6" font-size="6.3" text-anchor="middle">13</text>
<text x="439.95" y="600.6" font-size="6.3" text-anchor="middle">13</text>
<text x="448.63" y="600.6" font-size="6.3" text-anchor="middle">16</text>
<text x="457.31" y="600.6" font-size="6.3" text-anchor="middle">17</text>
<text x="465.99" y="600.6" font-size="6.3" text-anchor="middle">18</text>
<text x="474.67" y="600.6" font-size="6.3" text-anchor="middle">20</text>
<text x="483.35" y="600.6" font-size="6.3" text-anchor="middle">25</text>
<text x="492.04" y="600.6" font-size="6.3" text-anchor="middle">37</text>
<text x="500.72" y="600.6" font-size="6.3" text-anchor="middle">35</text>
<text x="509.4" y="600.6" font-size="6.3" text-anchor="middle">37</text>
<text x="318.4" y="610.5" font-size="6.3" text-anchor="middle">0</text>
<text x="327.08" y="610.5" font-size="6.3" text-anchor="middle">6</text>
<text x="335.76" y="610.5" font-size="6.3" text-anchor="middle">9</text>
<text x="344.45" y="610.5" font-size="6.3" text-anchor="middle">12</text>
<text x="353.13" y="610.5" font-size="6.3" text-anchor="middle">17</text>
<text x="361.81" y="610.5" font-size="6.3" text-anchor="middle">21</text>
<text x="370.49" y="610.5" font-size="6.3" text-anchor="middle">23</text>
<text x="379.17" y="610.5" font-size="6.3" text-anchor="middle">24</text>
<text x="387.85" y="610.5" font-size="6.3" text-anchor="middle">25</text>
<text x="396.54" y="610.5" font-size="6.3" text-anchor="middle">32</text>
<text x="405.22" y="610.5" font-size="6.3" text-anchor="middle">36</text>
<text x="413.9" y="610.5" font-size="6.3" text-anchor="middle">38</text>
<text x="422.58" y="610.5" font-size="6.3" text-anchor="middle">41</text>
<text x="431.26" y="610.5" font-size="6.3" text-anchor="middle">44</text>
<text x="439.95" y="610.5" font-size="6.3" text-anchor="middle">46</text>
<text x="448.63" y="610.5" font-size="6.3" text-anchor="middle">47</text>
<text x="457.31" y="610.5" font-size="6.3" text-anchor="middle">47</text>
<text x="465.99" y="610.5" font-size="6.3" text-anchor="middle">49</text>
<text x="474.67" y="610.5" font-size="6.3" text-anchor="middle">50</text>
<text x="483.35" y="610.5" font-size="6.3" text-anchor="middle">51</text>
<text x="492.04" y="610.5" font-size="6.3" text-anchor="middle">51</text>
<text x="500.72" y="610.5" font-size="6.3" text-anchor="middle">51</text>
<text x="509.4" y="610.5" font-size="6.3" text-anchor="middle">51</text>
<path d="M64.2 28.2L75.5 28.2L75.5 33.7L76.4 33.7L76.4 45.3L81.3 45.3L81.3 51L84.7 51L84.7 62L85.6 62L85.6 68L88.8 68L88.8 74L92.5 74L92.5 86.2L98.1 86.2L98.1 91.5L101.2 91.5L101.2 104L102.3 104L102.3 116L103.5 116L103.5 122.5L104.8 122.5L104.8 128.2L125.7 128.2L125.7 134.6L142.8 134.6L142.8 140.5L184.3 140.5L184.3 149.5L235.2 149.5" stroke="#b33a61" stroke-width="1.25" fill="none" stroke-linejoin="miter"/>
<path d="M75.8 32.45V34.95M74.7 33.7H76.9M76.5 37.75V40.25M75.4 39H77.6M84.8 55.35V57.85M83.7 56.6H85.9M85.3 61.05V63.55M84.2 62.3H86.4M92.5 78.75V81.25M91.4 80H93.6M101.5 96.45V98.95M100.4 97.7H102.6M102 102.75V105.25M100.9 104H103.1M102.5 108.35V110.85M101.4 109.6H103.6M103 114.75V117.25M101.9 116H104.1M104 121.25V123.75M102.9 122.5H105.1M112.5 126.95V129.45M111.4 128.2H113.6M165.7 139.25V141.75M164.6 140.5H166.8M172.3 139.25V141.75M171.2 140.5H173.4M177.2 139.25V141.75M176.1 140.5H178.3M179.2 139.25V141.75M178.1 140.5H180.3M195.5 148.25V150.75M194.4 149.5H196.6M202.6 148.25V150.75M201.5 149.5H203.7M205.6 148.25V150.75M204.5 149.5H206.7M208 148.25V150.75M206.9 149.5H209.1M211.2 148.25V150.75M210.1 149.5H212.3M212.7 148.25V150.75M211.6 149.5H213.8M217 148.25V150.75M215.9 149.5H218.1M219.3 148.25V150.75M218.2 149.5H220.4M235.2 148.25V150.75M234.1 149.5H236.3" stroke="#6e1530" stroke-width="0.85" fill="none"/>
<path d="M318.2 28.4L330.6 28.4L330.6 39L340 39L340 49L345 49L345 60L356.3 60L356.3 71.1L379.8 71.1L379.8 81.8L397.2 81.8L397.2 93.5L439.3 93.5L439.3 117L472.6 117" stroke="#b33a61" stroke-width="1.25" fill="none" stroke-linejoin="miter"/>
<path d="M340.3 47.75V50.25M339.2 49H341.4M345 51.05V53.55M343.9 52.3H346.1M366.3 69.85V72.35M365.2 71.1H367.4M400.4 92.25V94.75M399.3 93.5H401.5M419.6 92.25V94.75M418.5 93.5H420.7M423.5 92.25V94.75M422.4 93.5H424.6M427.6 92.25V94.75M426.5 93.5H428.7M432.7 92.25V94.75M431.6 93.5H433.8M434.7 92.25V94.75M433.6 93.5H435.8M449.3 115.75V118.25M448.2 117H450.4M457.3 115.75V118.25M456.2 117H458.4M465.8 115.75V118.25M464.7 117H466.9M468.5 115.75V118.25M467.4 117H469.6M472.6 115.75V118.25M471.5 117H473.7" stroke="#6e1530" stroke-width="0.85" fill="none"/>
<path d="M64.4 329.3L66.2 329.3L66.2 336.2L69.1 336.2L69.1 340.5L70.7 340.5L70.7 343.4L72 343.4L72 348.3L73.3 348.3L73.3 353.4L74.6 353.4L74.6 359.5L75.5 359.5L75.5 366L75.7 366L75.7 374L75.9 374L75.9 382L76.3 382L76.3 390L76.7 390L76.7 396L77.3 396L77.3 402.4L78.3 402.4L78.3 404.5L80.1 404.5L80.1 410.2L83 410.2L83 415.5L86.3 415.5L86.3 418L87.3 418L87.3 421L88 421L88 424L88.6 424L88.6 427L89.2 427L89.2 429.5L90.4 429.5L90.4 432.3L91.6 432.3L91.6 434.7L94.3 434.7L94.3 440.3L99.7 440.3L99.7 446.5L102.1 446.5L102.1 449.4L108.4 449.4L108.4 452.5L109.4 452.5L109.4 455.2L110.8 455.2L110.8 460L112.3 460L112.3 463.4L113.2 463.4L113.2 468.7L114.7 468.7L114.7 472.1L115.7 472.1L115.7 475L116.3 475L116.3 480.8L135.8 480.8L135.8 486.8L165.2 486.8L165.2 489.4L185.4 489.4L185.4 493.3L194.3 493.3L194.3 496.9L243.6 496.9" stroke="#b33a61" stroke-width="1.25" fill="none" stroke-linejoin="miter"/>
<path d="M64.8 328.1V330.5M63.8 329.3H65.8M67.3 335V337.4M66.3 336.2H68.3M69.6 340.3V342.7M68.6 341.5H70.6M72.1 347.1V349.5M71.1 348.3H73.1M73.5 352.2V354.6M72.5 353.4H74.5M75.3 360.8V363.2M74.3 362H76.3M75.6 366.3V368.7M74.6 367.5H76.6M75.8 373.6V376M74.8 374.8H76.8M76 379.1V381.5M75 380.3H77M76.4 386.4V388.8M75.4 387.6H77.4M76.9 391.9V394.3M75.9 393.1H77.9M78.3 403.3V405.7M77.3 404.5H79.3M80.1 408.3V410.7M79.1 409.5H81.1M82.7 414.3V416.7M81.7 415.5H83.7M86.3 417.8V420.2M85.3 419H87.3M87.6 420.8V423.2M86.6 422H88.6M88.6 426.3V428.7M87.6 427.5H89.6M90.4 430.2V432.6M89.4 431.4H91.4M96.5 439.1V441.5M95.5 440.3H97.5M99.7 443V445.4M98.7 444.2H100.7M106 448.2V450.6M105 449.4H107M109.3 454V456.4M108.3 455.2H110.3M111.2 459.2V461.6M110.2 460.4H112.2M112.4 464.3V466.7M111.4 465.5H113.4M113.7 468.6V471M112.7 469.8H114.7M114.8 473.3V475.7M113.8 474.5H115.8M136.2 483.8V486.2M135.2 485H137.2M160.2 485.6V488M159.2 486.8H161.2M175.6 488.2V490.6M174.6 489.4H176.6M189.4 492.1V494.5M188.4 493.3H190.4M210.3 495.7V498.1M209.3 496.9H211.3M214.3 495.7V498.1M213.3 496.9H215.3M216.6 495.7V498.1M215.6 496.9H217.6M218.7 495.7V498.1M217.7 496.9H219.7M220.8 495.7V498.1M219.8 496.9H221.8M223.1 495.7V498.1M222.1 496.9H224.1M240.5 495.7V498.1M239.5 496.9H241.5M242.9 495.7V498.1M241.9 496.9H243.9" stroke="#6e1530" stroke-width="0.85" fill="none"/>
<path d="M318.2 329.3L320.2 329.3L320.2 331.25L322.2 331.25L322.2 333.2L323.4 333.2L323.4 335.6L324.6 335.6L324.6 338L326.05 338L326.05 340.4L327.5 340.4L327.5 342.8L329.65 342.8L329.65 344.5L331.8 344.5L331.8 346.2L333.25 346.2L333.25 348.1L334.7 348.1L334.7 350L337.6 350L337.6 352.9L338.23 352.9L338.23 354.83L338.87 354.83L338.87 356.77L339.5 356.77L339.5 358.7L345.8 358.7L346.25 358.7L346.25 361.1L346.7 361.1L346.7 363.5L347.37 363.5L347.37 365.4L348.03 365.4L348.03 367.3L348.7 367.3L348.7 369.2L352.5 369.2L352.5 372.1L354.8 372.1L354.8 374.6L359.1 374.6L359.1 377.5L359.85 377.5L359.85 379.9L360.6 379.9L360.6 382.3L364.4 382.3L364.4 383.3L365.4 383.3L365.4 385.2L369.2 385.2L370.2 385.2L370.2 387.9L378.8 387.9L379.55 387.9L379.55 390.65L380.3 390.65L380.3 393.4L388.5 393.4L388.88 393.4L388.88 395.42L389.26 395.42L389.26 397.44L389.64 397.44L389.64 399.46L390.02 399.46L390.02 401.48L390.4 401.48L390.4 403.5L392.3 403.5L392.3 406.3L394.3 406.3L394.3 409.1L396.7 409.1L396.7 412L399.6 412L399.6 414.9L400.55 414.9L400.55 417.05L401.5 417.05L401.5 419.2L402.5 419.2L402.5 421.15L403.5 421.15L403.5 423.1L409.2 423.1L409.45 423.1L409.45 425.75L409.7 425.75L409.7 428.4L415.5 428.4L416.7 428.4L416.7 430.8L417.9 430.8L417.9 433.2L421.3 433.2L421.3 434.1L422.7 434.1L422.7 436.1L425.1 436.1L425.1 437L426.2 437L426.2 445L431.3 445L431.3 448L433.2 448L433.2 450.9L440.4 450.9L440.4 454.7L461.1 454.7L461.1 461L470.5 461L470.5 465L476.4 465L476.4 469L509.2 469" stroke="#b33a61" stroke-width="1.25" fill="none" stroke-linejoin="miter"/>
<path d="M319 328.1V330.5M318 329.3H320M322.2 332V334.4M321.2 333.2H323.2M327.5 341.8V344.2M326.5 343H328.5M333.3 346.9V349.3M332.3 348.1H334.3M338.5 353.8V356.2M337.5 355H339.5M349.6 369V371.4M348.6 370.2H350.6M355.4 373.8V376.2M354.4 375H356.4M365 383.4V385.8M364 384.6H366M370.8 386.7V389.1M369.8 387.9H371.8M391.9 404.6V407M390.9 405.8H392.9M397.7 410.8V413.2M396.7 412H398.7M405 421.9V424.3M404 423.1H406M412 427.2V429.6M411 428.4H413M421.3 432.9V435.3M420.3 434.1H422.3M424 435.3V437.7M423 436.5H425M444.7 453.5V455.9M443.7 454.7H445.7M451.9 453.5V455.9M450.9 454.7H452.9M473 463.8V466.2M472 465H474M479.8 467.8V470.2M478.8 469H480.8M485 467.8V470.2M484 469H486M490.2 467.8V470.2M489.2 469H491.2M496.5 467.8V470.2M495.5 469H497.5M500 467.8V470.2M499 469H501M506.5 467.8V470.2M505.5 469H507.5" stroke="#6e1530" stroke-width="0.85" fill="none"/>
</svg></body></html>
